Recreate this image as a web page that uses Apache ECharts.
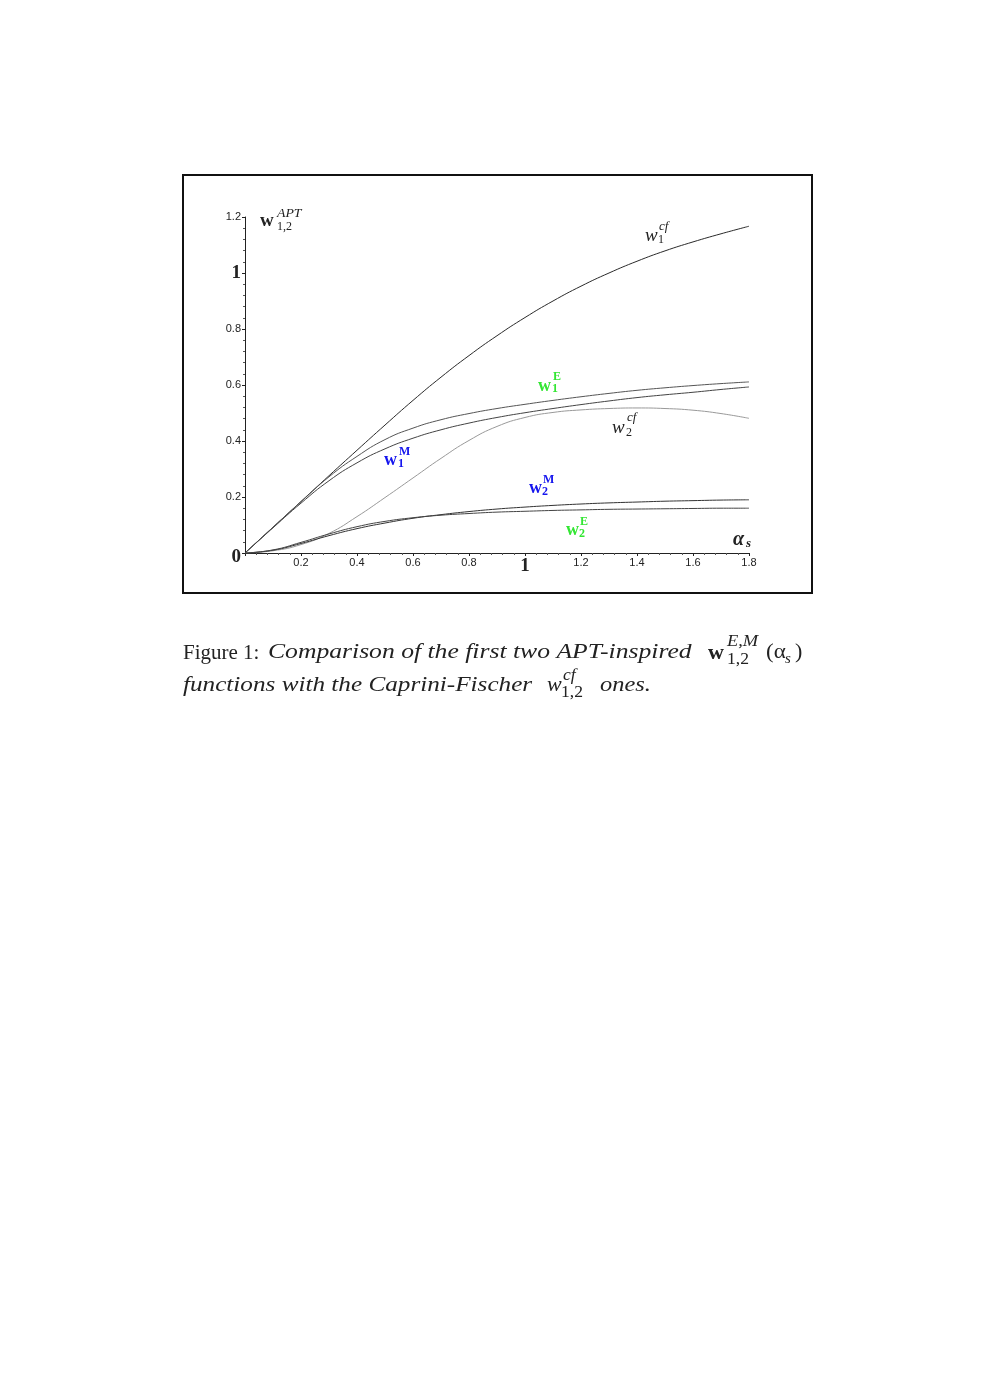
<!DOCTYPE html>
<html>
<head>
<meta charset="utf-8">
<script src="https://cdn.jsdelivr.net/npm/echarts@6/dist/echarts.min.js"></script>
<style>
html, body { margin: 0; padding: 0; background: #fff; }
#chart { width: 981px; height: 1386px; }
</style>
</head>
<body>
<div id="chart"></div>
<script>
// alpha_s grid and the curves
const alpha = [0, 0.1, 0.2, 0.3, 0.4, 0.5, 0.6, 0.7, 0.8, 0.9, 1.0, 1.1, 1.2, 1.3, 1.4, 1.5, 1.6, 1.7, 1.8]
const w1cf = [0, 0.092, 0.184, 0.276, 0.367, 0.457, 0.545, 0.628, 0.705, 0.776, 0.841, 0.9, 0.953, 1.0, 1.042, 1.079, 1.111, 1.14, 1.167]
const w1E = [0, 0.092, 0.183, 0.272, 0.345, 0.405, 0.446, 0.476, 0.498, 0.516, 0.531, 0.545, 0.558, 0.57, 0.581, 0.59, 0.598, 0.605, 0.611]
const w1M = [0, 0.09, 0.178, 0.258, 0.322, 0.372, 0.41, 0.44, 0.464, 0.484, 0.501, 0.516, 0.53, 0.543, 0.555, 0.565, 0.574, 0.584, 0.593]
const w2cf = [0, 0.008, 0.03, 0.07, 0.13, 0.198, 0.268, 0.338, 0.402, 0.452, 0.484, 0.502, 0.511, 0.516, 0.518, 0.516, 0.51, 0.498, 0.481]
const w2M = [0, 0.01, 0.034, 0.062, 0.087, 0.107, 0.124, 0.137, 0.148, 0.157, 0.164, 0.17, 0.175, 0.179, 0.182, 0.185, 0.187, 0.189, 0.19]
const w2E = [0, 0.011, 0.038, 0.068, 0.094, 0.113, 0.126, 0.135, 0.141, 0.146, 0.149, 0.152, 0.154, 0.156, 0.157, 0.158, 0.159, 0.16, 0.16]

const SERIF = '"Liberation Serif", "DejaVu Serif", serif'
const SANS = '"Liberation Sans", Arial, sans-serif'
const GREEN = '#33e633'
const BLUE = '#1515ee'

const chart = echarts.init(document.getElementById('chart'))

// small text piece for graphic labels
function txt(x, y, s, size, opt) {
  opt = opt || {}
  return {
    type: 'text',
    x: x,
    y: y,
    scaleX: opt.sx || 1,
    z: 100,
    silent: true,
    style: {
      text: s,
      fontSize: size,
      fontFamily: opt.family || SERIF,
      fontStyle: opt.italic ? 'italic' : 'normal',
      fontWeight: opt.bold ? 'bold' : 'normal',
      fill: opt.color || '#222',
      textAlign: 'left',
      textVerticalAlign: 'middle',
    },
  }
}

function line(name, ys, color) {
  return {
    name: name,
    type: 'line',
    data: alpha.map((a, i) => [a, ys[i]]),
    smooth: true,
    showSymbol: false,
    silent: true,
    animation: false,
    lineStyle: { color: color, width: 1 },
  }
}

const isOne = v => Math.abs(v - 1) < 1e-9

const option = {
  backgroundColor: '#fff',
  animation: false,
  grid: { left: 245, top: 217, width: 504, height: 336 },
  xAxis: {
    type: 'value',
    min: 0,
    max: 1.8,
    interval: 0.2,
    axisLine: { show: true, onZero: false, lineStyle: { color: '#222', width: 1 } },
    axisTick: { show: true, length: 3, lineStyle: { color: '#222' } },
    minorTick: { show: true, splitNumber: 5, length: 2, lineStyle: { color: '#555' } },
    splitLine: { show: false },
    axisLabel: {
      margin: 4,
      fontSize: 11,
      fontFamily: SANS,
      color: '#222',
      formatter: v => (v === 0 ? '' : isOne(v) ? '{b|1}' : v.toFixed(1)),
      rich: { b: { fontFamily: SERIF, fontWeight: 'bold', fontSize: 19, color: '#222', padding: [0, 0, 0, 0] } },
    },
  },
  yAxis: {
    type: 'value',
    min: 0,
    max: 1.2,
    interval: 0.2,
    axisLine: { show: true, onZero: false, lineStyle: { color: '#222', width: 1 } },
    axisTick: { show: true, length: 3, lineStyle: { color: '#222' } },
    minorTick: { show: true, splitNumber: 5, length: 2, lineStyle: { color: '#555' } },
    splitLine: { show: false },
    axisLabel: {
      margin: 4,
      fontSize: 11,
      fontFamily: SANS,
      color: '#222',
      formatter: v => (v === 0 ? '{z|0}' : isOne(v) ? '{b|1}' : v.toFixed(1)),
      rich: {
        b: { fontFamily: SERIF, fontWeight: 'bold', fontSize: 19, color: '#222' },
        z: { fontFamily: SERIF, fontWeight: 'bold', fontSize: 19, color: '#222', padding: [8, 0, 0, 0] },
      },
    },
  },
  series: [
    line('w1cf', w1cf, '#2a2a2a'),
    line('w1E', w1E, '#555'),
    line('w1M', w1M, '#444'),
    line('w2cf', w2cf, '#999'),
    line('w2M', w2M, '#333'),
    line('w2E', w2E, '#444'),
  ],
  graphic: [
    {
      type: 'rect',
      silent: true,
      shape: { x: 183, y: 175, width: 629, height: 418 },
      style: { fill: 'none', stroke: '#111', lineWidth: 2 },
    },
    // axis names
    txt(260, 221, 'w', 19, { bold: true }),
    txt(277, 214, 'APT', 12, { italic: true, sx: 1.15 }),
    txt(277, 227, '1,2', 12),
    txt(733, 540, 'α', 20, { bold: true, italic: true }),
    txt(746, 544, 's', 13, { bold: true, italic: true }),
    // curve labels
    txt(645, 236, 'w', 19, { italic: true }),
    txt(659, 227, 'cf', 13, { italic: true }),
    txt(658, 240, '1', 12),
    txt(612, 428, 'w', 19, { italic: true }),
    txt(627, 418, 'cf', 13, { italic: true }),
    txt(626, 433, '2', 12),
    txt(538, 386, 'w', 18, { bold: true, color: GREEN }),
    txt(553, 377, 'E', 12, { bold: true, color: GREEN }),
    txt(552, 389, '1', 12, { bold: true, color: GREEN }),
    txt(384, 460, 'w', 18, { bold: true, color: BLUE }),
    txt(399, 452, 'M', 12, { bold: true, color: BLUE }),
    txt(398, 464, '1', 12, { bold: true, color: BLUE }),
    txt(529, 488, 'w', 18, { bold: true, color: BLUE }),
    txt(543, 480, 'M', 12, { bold: true, color: BLUE }),
    txt(542, 492, '2', 12, { bold: true, color: BLUE }),
    txt(566, 530, 'w', 18, { bold: true, color: GREEN }),
    txt(580, 522, 'E', 12, { bold: true, color: GREEN }),
    txt(579, 534, '2', 12, { bold: true, color: GREEN }),
    // caption
    txt(183, 653, 'Figure 1:', 21),
    txt(268, 652, 'Comparison of the first two APT-inspired', 22, { italic: true, sx: 1.165 }),
    txt(708, 653, 'w', 22, { bold: true }),
    txt(727, 642, 'E,M', 16, { italic: true, sx: 1.15 }),
    txt(727, 660, '1,2', 16, { sx: 1.1 }),
    txt(766, 652, '(α', 22, { sx: 1.05 }),
    txt(785, 659, 's', 15, { italic: true }),
    txt(795, 652, ')', 22),
    txt(183, 685, 'functions with the Caprini-Fischer', 22, { italic: true, sx: 1.145 }),
    txt(547, 685, 'w', 22, { italic: true }),
    txt(563, 676, 'cf', 16, { italic: true, sx: 1.1 }),
    txt(561, 693, '1,2', 16, { sx: 1.1 }),
    txt(600, 685, 'ones.', 22, { italic: true, sx: 1.11 }),
  ],
}

chart.setOption(option)
</script>
</body>
</html>
